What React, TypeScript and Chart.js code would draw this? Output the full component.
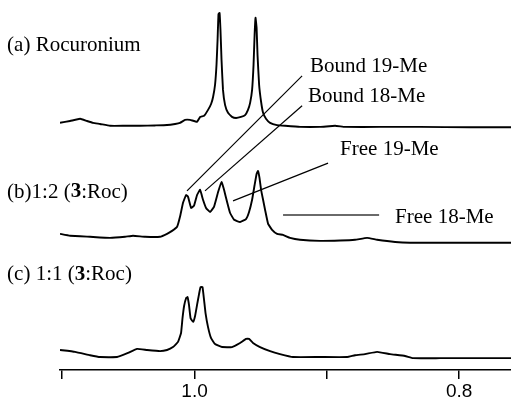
import React, { useEffect, useRef } from "react";
import { Chart, registerables } from "chart.js";

Chart.register(...registerables);

// ---- Spectrum (a) Rocuronium ----
const ppmA = [1.1017, 1.0941, 1.0865, 1.0813, 1.0767, 1.0714, 1.0639, 1.0525, 1.0412, 1.0299, 1.0208, 1.0147, 1.011, 1.0072, 1.0034, 0.9981, 0.9958, 0.9928, 0.9898, 0.9875, 0.986, 0.9845, 0.9834, 0.9826, 0.9819, 0.9811, 0.9804, 0.9796, 0.9785, 0.9769, 0.9747, 0.9717, 0.9686, 0.9649, 0.9618, 0.9596, 0.958, 0.9565, 0.9554, 0.9546, 0.9539, 0.9531, 0.9524, 0.9512, 0.9497, 0.9482, 0.946, 0.9429, 0.9377, 0.9316, 0.9203, 0.9052, 0.8938, 0.8863, 0.8598, 0.8296, 0.7918, 0.7608];
const intA = [1.1, 1.6, 2.2, 1.6, 1.1, 0.8, 0.3, 0.3, 0.3, 0.4, 0.5, 0.8, 1.1, 1.9, 1.9, 1.4, 2.7, 3.0, 4.6, 6.2, 8.1, 11.4, 16.8, 23.5, 30.5, 30.8, 26.2, 18.1, 10.0, 5.9, 3.8, 2.7, 2.4, 2.7, 3.2, 4.6, 6.5, 10.0, 16.8, 24.9, 29.5, 26.8, 19.5, 11.4, 6.8, 3.8, 2.2, 1.1, 0.5, 0.3, 0, 0, 0.3, 0, 0, 0, -0.1, -0.1];

// ---- Spectrum (b) 1:2 (3:Roc) ----
const ppmB = [1.1017, 1.0941, 1.079, 1.0639, 1.0525, 1.0465, 1.0374, 1.0261, 1.0208, 1.017, 1.0132, 1.011, 1.0087, 1.0064, 1.0049, 1.0026, 1.0004, 0.9981, 0.9958, 0.9936, 0.9913, 0.9883, 0.9853, 0.9822, 0.9796, 0.9777, 0.9754, 0.9732, 0.9701, 0.9656, 0.9611, 0.9588, 0.9565, 0.9546, 0.9531, 0.952, 0.9509, 0.9497, 0.9482, 0.9467, 0.9444, 0.9414, 0.9376, 0.9331, 0.9278, 0.9203, 0.9051, 0.89, 0.8787, 0.8696, 0.862, 0.8484, 0.8371, 0.8068, 0.7608];
const intB = [1.9, 1.4, 1.1, 0.8, 1.1, 1.4, 1.1, 1.1, 1.9, 2.7, 3.8, 6.5, 10.3, 12.4, 11.9, 8.9, 9.5, 12.4, 13.8, 11.1, 8.9, 7.8, 9.2, 13.2, 15.9, 13.8, 10.5, 7.6, 5.7, 5.1, 5.9, 7.8, 11.1, 15.1, 18.1, 18.9, 17.0, 13.8, 11.1, 8.4, 4.6, 3.0, 1.9, 1.6, 0.8, 0.3, 0, 0.1, 0.3, 0.8, 0.3, -0.3, -0.5, -0.5, -0.5];

// ---- Spectrum (c) 1:1 (3:Roc) ----
const ppmC = [1.1017, 1.0903, 1.079, 1.0714, 1.0586, 1.0503, 1.0435, 1.0359, 1.0261, 1.0208, 1.0163, 1.0125, 1.0102, 1.0091, 1.0079, 1.0064, 1.0053, 1.0042, 1.003, 1.0011, 0.9996, 0.9981, 0.9966, 0.9955, 0.994, 0.9928, 0.9917, 0.9898, 0.9875, 0.9845, 0.9792, 0.9717, 0.9656, 0.9611, 0.9588, 0.9558, 0.9505, 0.9429, 0.9354, 0.9256, 0.9052, 0.8847, 0.8787, 0.8711, 0.862, 0.8522, 0.8409, 0.8348, 0.8144, 0.7608];
const intC = [1.9, 1.4, 0.5, 0, 0, 1.1, 2.2, 1.9, 1.6, 1.9, 2.7, 4.1, 6.5, 10.5, 13.8, 15.9, 16.2, 14.1, 10.5, 9.5, 11.1, 14.1, 17.0, 18.9, 18.9, 15.4, 11.9, 8.1, 5.1, 3.5, 2.7, 2.7, 3.8, 4.9, 4.9, 3.8, 2.7, 1.6, 0.8, 0, 0, 0, 0.5, 0.8, 1.4, 0.8, 0.3, -0.3, -0.3, -0.3];

// vertical stacking offsets of the three spectra
const traceOffsets = [65.7, 34.9, 3.5];

// x axis
const xMin = 0.7608;
const xMax = 1.1017;
const tickValues = [1.1, 1.0, 0.9, 0.8];
const tickLabels = ["", "1.0", "", "0.8"];

// leader lines (ppm, intensity) pairs
const leaderStartPpm = [1.0057, 0.9921, 0.9709, 0.9331];
const leaderStartY = [48.4, 48.4, 45.7, 41.9];
const leaderEndPpm = [0.9187, 0.9187, 0.8991, 0.8605];
const leaderEndY = [79.5, 71.4, 55.9, 41.9];
const leaderColors = ["#000000", "#000000", "#000000", "#6a6a6a"];
const leaderWidths = [1.2, 1.2, 1.2, 2];

// text labels: segments [text, bold]
const labelSegments: [string, boolean][][] = [
  [["(a) Rocuronium", false]],
  [["(b)1:2 (", false], ["3", true], [":Roc)", false]],
  [["(c) 1:1 (", false], ["3", true], [":Roc)", false]],
  [["Bound 19-Me", false]],
  [["Bound 18-Me", false]],
  [["Free 19-Me", false]],
  [["Free 18-Me", false]],
];
const labelPpm = [1.1417, 1.1417, 1.1417, 0.9127, 0.9142, 0.89, 0.8484];
const labelY = [87.8, 48.1, 25.7, 81.9, 73.8, 59.5, 41.1];

const textPlugin = {
  id: "nmrLabels",
  afterDraw(chart: any) {
    const ctx = chart.ctx;
    const xs = chart.scales.x;
    const ys = chart.scales.y;
    ctx.save();
    ctx.fillStyle = "#000";
    ctx.textBaseline = "middle";
    ctx.textAlign = "left";
    labelSegments.forEach((segs, i) => {
      let px = xs.getPixelForValue(labelPpm[i]);
      const py = ys.getPixelForValue(labelY[i]);
      segs.forEach(([t, bold]) => {
        ctx.font = `${bold ? "bold " : ""}21px "Liberation Serif", "Times New Roman", serif`;
        ctx.fillText(t, px, py);
        px += ctx.measureText(t).width;
      });
    });
    ctx.restore();
  },
};

export default function App() {
  const ref = useRef<HTMLCanvasElement | null>(null);
  useEffect(() => {
    document.body.style.margin = "0";
    const ppms = [ppmA, ppmB, ppmC];
    const ints = [intA, intB, intC];
    const traceSets = ppms.map((p, k) => ({
      data: p.map((x, i) => ({ x, y: ints[k][i] + traceOffsets[k] })),
      showLine: true,
      borderColor: "#000",
      borderWidth: 1.9,
      pointRadius: 0,
      tension: 0.1,
      fill: false,
    }));
    const leaderSets = leaderStartPpm.map((x0, i) => ({
      data: [
        { x: x0, y: leaderStartY[i] },
        { x: leaderEndPpm[i], y: leaderEndY[i] },
      ],
      showLine: true,
      borderColor: leaderColors[i],
      borderWidth: leaderWidths[i],
      pointRadius: 0,
      fill: false,
    }));
    const chart = new Chart(ref.current as HTMLCanvasElement, {
      type: "scatter",
      data: { datasets: [...traceSets, ...leaderSets] as any },
      options: {
        animation: false,
        responsive: true,
        maintainAspectRatio: false,
        layout: { padding: { left: 60, right: 0, top: 0, bottom: 0 } },
        plugins: { legend: { display: false }, tooltip: { enabled: false } },
        scales: {
          x: {
            type: "linear",
            reverse: true,
            min: xMin,
            max: xMax,
            position: "bottom",
            afterFit: (s: any) => {
              s.height = 32;
            },
            afterBuildTicks: (s: any) => {
              s.ticks = tickValues.map((v) => ({ value: v }));
            },
            ticks: {
              autoSkip: false,
              maxRotation: 0,
              padding: 1,
              color: "#000",
              font: { family: "Liberation Sans", size: 19 },
              callback: (v: any) => {
                const idx = tickValues.findIndex((t) => Math.abs(t - Number(v)) < 1e-6);
                return idx >= 0 ? tickLabels[idx] : "";
              },
            },
            grid: {
              display: true,
              drawOnChartArea: false,
              drawTicks: true,
              tickLength: 9,
              color: "#000",
              lineWidth: 1.5,
            },
            border: { display: true, color: "#000", width: 1.6 },
          },
          y: { type: "linear", display: false, min: 0, max: 100 },
        },
      },
      plugins: [textPlugin],
    });
    return () => chart.destroy();
  }, []);
  return (
    <div style={{ width: 511, height: 402, position: "relative" }}>
      <canvas ref={ref} />
    </div>
  );
}
